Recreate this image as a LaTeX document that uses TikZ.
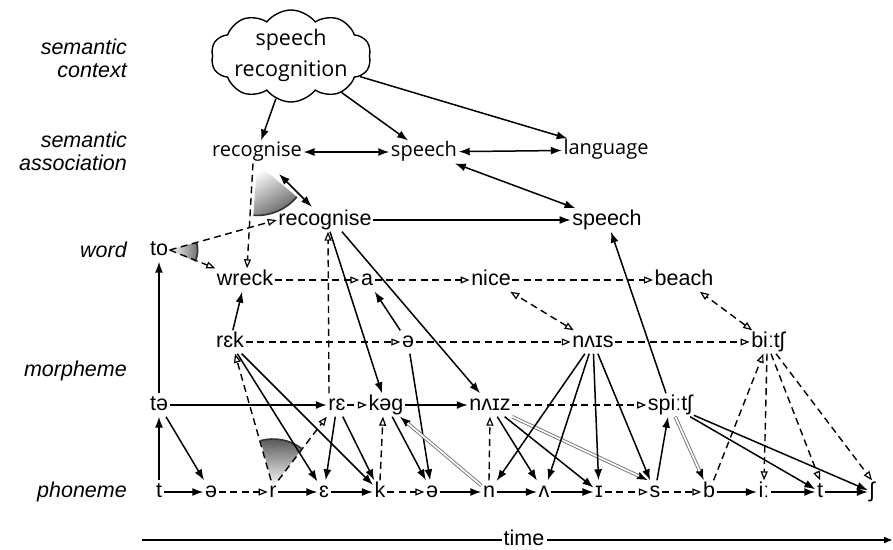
\documentclass[tikz,border=0pt]{standalone}
\usepackage{fontspec}
\setmainfont{Liberation Sans}
\newfontfamily\opt{Open Sans}
\usetikzlibrary{arrows.meta,shapes.symbols,calc}
\tikzset{
  w/.style={font=\fontsize{21.5}{24}\selectfont, inner sep=1.5pt, text height=15.2pt, text depth=4.8pt},
  s/.style={font=\opt\fontsize{20}{22}\selectfont, inner sep=1.5pt, text height=14.5pt, text depth=5pt},
  lab/.style={font=\itshape\fontsize{21.5}{23}\selectfont, align=right, anchor=east, inner sep=0pt},
  ar/.style={line width=1.5pt, -{Latex[length=11pt,width=8pt]}},
  dar/.style={line width=1.5pt, {Latex[length=11pt,width=8pt]}-{Latex[length=11pt,width=8pt]}},
  dsh/.style={line width=1.4pt, dash pattern=on 7pt off 4.5pt, -{Triangle[open,length=9pt,width=7pt,line width=1.2pt]}},
  ddsh/.style={line width=1.4pt, dash pattern=on 7pt off 4.5pt, {Triangle[open,length=9pt,width=7pt,line width=1.2pt]}-{Triangle[open,length=9pt,width=7pt,line width=1.2pt]}},
  dbl/.style={draw=black!55, double=white, double distance=1.7pt, line width=0.9pt, shorten >=10pt},
  arcline/.style={line width=1.6pt, black!80},
}
\begin{document}
\begin{tikzpicture}[x=1pt,y=-1pt]
\useasboundingbox (0,0) rectangle (893,549);

% labels
\node[lab] at (127,58) {semantic\\context};
\node[lab] at (127,151) {semantic\\association};
\node[lab] at (127,250) {word};
\node[lab] at (127,371) {morpheme};
\node[lab] at (127,492) {phoneme};

% cloud
\node[cloud, draw, line width=1.4pt, cloud puffs=10, cloud puff arc=105, aspect=1.8,
      minimum width=160pt, minimum height=92pt, inner sep=0pt] (cloud) at (291,56) {};
\node[font=\opt\fontsize{21.5}{31}\selectfont, align=center] (cloudtext) at (291,55) {speech\\recognition};

% semantic association
\node[s] (rec1) at (257,152) {recognise};
\node[s] (sp1) at (424,152) {speech};
\node[s] (lang) at (606,150) {language};

% word
\node[w] (rec2) at (325,220) {recognise};
\node[w] (sp2) at (607,220) {speech};
\node[w] (to) at (159,250) {to};
\node[w] (wreck) at (245,280) {wreck};
\node[w] (a) at (367,280) {a};
\node[w] (nice) at (491,280) {nice};
\node[w] (beach) at (684,280) {beach};

% morpheme
\node[w] (rek) at (230,342) {rɛk};
\node[w] (mschwa) at (408,342) {ə};
\node[w] (nais) at (593,342) {nʌɪs};
\node[w] (bitsh) at (768,342) {biːtʃ};
\node[w] (te) at (159,405) {tə};
\node[w] (re) at (337,405) {rɛ};
\node[w] (keg) at (386,405) {kəg};
\node[w] (naiz) at (490,405) {nʌɪz};
\node[w] (spitsh) at (670,405) {spiːtʃ};

% phonemes
\node[w] (p1) at (159,492) {t};
\node[w] (p2) at (211,492) {ə};
\node[w] (p3) at (273,492) {r};
\node[w] (p4) at (324,492) {ɛ};
\node[w] (p5) at (380,492) {k};
\node[w] (p6) at (432,492) {ə};
\node[w] (p7) at (489,492) {n};
\node[w] (p8) at (544,492) {ʌ};
\node[w] (p9) at (599,492) {ɪ};
\node[w] (p10) at (655,492) {s};
\node[w] (p11) at (709,492) {b};
\node[w] (p12) at (764,492) {iː};
\node[w] (p13) at (820,492) {t};
\node[w] (p14) at (872,492) {ʃ};

% shaded sectors
\shade[top color=white, bottom color=black!62, shading angle=30]
  (rec1.south) -- ++(-94:52pt) arc[start angle=-94, end angle=-40, radius=52pt] -- cycle;
\draw[arcline] ($(rec1.south)+(-94:52pt)$) arc[start angle=-94, end angle=-40, radius=52pt];
\shade[left color=white, right color=black!58]
  (to.east) -- ++(-24:28pt) arc[start angle=-24, end angle=16, radius=28pt] -- cycle;
\draw[arcline] ($(to.east)+(-24:28pt)$) arc[start angle=-24, end angle=16, radius=28pt];
\coordinate (v3) at ($(p3.center)+(0,-5)$);
\shade[top color=black!68, bottom color=white]
  (v3) -- ++(53:48pt) arc[start angle=53, end angle=105, radius=48pt] -- cycle;
\draw[arcline] ($(v3)+(53:48pt)$) arc[start angle=53, end angle=105, radius=48pt];

% semantic level edges
\draw[ar] (cloud) -- (rec1);
\draw[ar] (cloud) -- (sp1);
\draw[ar] (cloud) -- (lang);
\draw[dar] (rec1) -- (sp1);
\draw[dar] (sp1) -- (lang);
\draw[dar] (sp1) -- (sp2);
\draw[dar, shorten <=15pt, shorten >=2pt] (rec1) -- (rec2);
\draw[dsh] ([xshift=-4pt]rec1.south) -- ([xshift=2pt]wreck.north);

% word level edges
\draw[dsh] (to.east) -- (rec2.west);
\draw[dsh] (to.east) -- (wreck.north west);
\draw[ar] (te) -- (to);
\draw[dsh] (wreck) -- (a);
\draw[dsh] (a) -- (nice);
\draw[dsh] (nice) -- (beach);
\draw[ar] (rec2) -- (sp2);
\draw[ar] (spitsh) -- (sp2);

% morpheme edges
\draw[ar] (rek) -- (wreck);
\draw[dsh] (rek) -- (mschwa);
\draw[dsh] (mschwa) -- (nais);
\draw[dsh] (nais) -- (bitsh);
\draw[ar] (mschwa) -- (a);
\draw[ddsh] (nais) -- (nice);
\draw[ddsh] (bitsh) -- (beach);
\draw[ar] ([xshift=5pt]rec2.south) -- ([xshift=-4pt]keg.north);
\draw[ar] ([xshift=17pt]rec2.south) -- ([xshift=-10pt]naiz.north);
\draw[dsh] ([xshift=-8pt]re.north) -- ([xshift=3pt]rec2.south);
\draw[ar] (mschwa) -- (p6);
\draw[ar] (te) -- (re);
\draw[dsh] (re) -- (keg);
\draw[ar] (keg) -- (naiz);
\draw[dsh] (naiz) -- (spitsh);

% phoneme to morpheme edges
\draw[ar] (p1) -- (te);
\draw[ar] (te) -- (p2);
\draw[dsh] ([xshift=-2pt]p3.north) -- ([xshift=5pt]rek.south);
\draw[dsh] (p3.north east) -- (re.south west);
\draw[ar] (rek) -- (p4);
\draw[ar] (rek) -- (p5);
\draw[ar] (re) -- (p4);
\draw[ar] (re) -- (p5);
\draw[dsh] (p5.north) -- ([xshift=-3pt]keg.south);
\draw[ar] (keg) -- (p6);
\draw[ar] (p7) -- (keg);
\draw[dbl] (p7) -- (keg);
\draw[dsh] (p7.north) -- (naiz.south);
\draw[ar] (naiz) -- (p8);
\draw[ar] (naiz) -- (p9);
\draw[ar] (naiz.south east) -- (p10.north west);
\draw[dbl] (naiz.south east) -- (p10.north west);
\draw[ar] (nais) -- (p7);
\draw[ar] (nais) -- (p8);
\draw[ar] (nais) -- (p9);
\draw[ar] (nais) -- (p10);
\draw[ar] (p10) -- (spitsh);
\draw[ar] (spitsh) -- (p11);
\draw[dbl] (spitsh) -- (p11);
\draw[ar] (spitsh) -- (p13);
\draw[ar] (spitsh) -- (p14);
\draw[dsh] (p11) -- (bitsh);
\draw[dsh] ([xshift=-1pt]bitsh.south) -- (p12.north);
\draw[dsh] ([xshift=3pt]bitsh.south) -- (p13.north);
\draw[dsh] ([xshift=8pt]bitsh.south) -- (p14.north);

% phoneme row
\draw[ar] (p1) -- (p2);
\draw[dsh] (p2) -- (p3);
\draw[ar] (p3) -- (p4);
\draw[ar] (p4) -- (p5);
\draw[dsh] (p5) -- (p6);
\draw[ar] (p6) -- (p7);
\draw[ar] (p7) -- (p8);
\draw[ar] (p8) -- (p9);
\draw[dsh] (p9) -- (p10);
\draw[dsh] (p10) -- (p11);
\draw[ar] (p11) -- (p12);
\draw[ar] (p12) -- (p13);
\draw[ar] (p13) -- (p14);

% time axis
\node[w, fill=white, inner sep=2pt] (time) at (524,540) {time};
\coordinate (t0) at (142,540);
\coordinate (t1) at (893,540);
\draw[line width=1.8pt] (t0) -- (time.west);
\draw[line width=1.8pt, -{Latex[length=9pt,width=7pt]}] (time.east) -- (t1);
\end{tikzpicture}
\end{document}
